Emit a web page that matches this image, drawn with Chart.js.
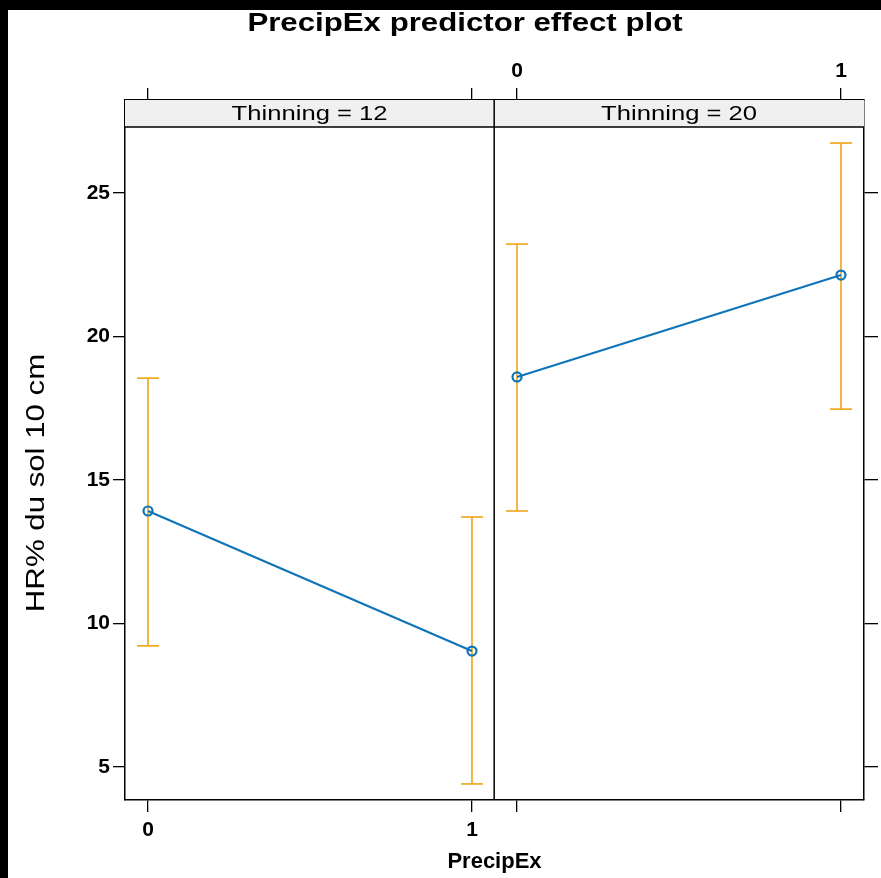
<!DOCTYPE html>
<html>
<head>
<meta charset="utf-8">
<script src="https://cdn.jsdelivr.net/npm/chart.js@4.4.1/dist/chart.umd.min.js"></script>
<style>
  html, body { margin: 0; padding: 0; background: #fff; }
  canvas { display: block; }
</style>
</head>
<body>
<canvas id="effectPlot" width="881" height="878"></canvas>
<script>
// data
const precipEx = [0, 1];
const xTickLabels = ['0', '1'];
const thinningLevels = ['Thinning = 12', 'Thinning = 20'];
const fit12 = [13.92, 9.04];
const lower12 = [9.22, 4.41];
const upper12 = [18.55, 13.71];
const fit20 = [18.59, 22.14];
const lower20 = [13.92, 17.47];
const upper20 = [23.22, 26.74];
const yTicks = [5, 10, 15, 20, 25];

// layout of the two panels on one shared x scale
const panelOffset = [0, 1.139];
const panelEdge = 1.0685;
const xMin = -0.071, xMax = 2.210;
const yMin = 3.85, yMax = 28.24;

const BLUE = '#0f74b8';
const ORANGE = '#eea515';
const FONT = '"Liberation Sans", Arial, sans-serif';

const pt = (panel, i, v) => ({ x: panelOffset[panel] + precipEx[i], y: v });

function fitSet(panel, fit) {
    return {
        data: precipEx.map((_, i) => pt(panel, i, fit[i])),
        borderColor: BLUE, borderWidth: 2.2,
        pointStyle: 'circle', pointRadius: 4.5, pointBorderWidth: 2.2,
        pointBorderColor: BLUE, pointBackgroundColor: 'rgba(0,0,0,0)',
        showLine: true, order: 0
    };
}

function barSet(panel, i, lo, hi) {
    return {
        data: [pt(panel, i, lo[i]), pt(panel, i, hi[i])],
        borderColor: ORANGE, borderWidth: 1.6,
        pointStyle: 'line', pointRadius: 11, pointBorderWidth: 1.6,
        pointBorderColor: ORANGE, showLine: true, order: 1
    };
}

const datasets = [fitSet(0, fit12), fitSet(1, fit20)];
precipEx.forEach((_, i) => {
    datasets.push(barSet(0, i, lower12, upper12));
    datasets.push(barSet(1, i, lower20, upper20));
});

const allXTicks = scale => {
    scale.ticks = [];
    panelOffset.forEach(off => precipEx.forEach(v => scale.ticks.push({ value: off + v })));
};

const grid = { display: true, drawOnChartArea: false, drawTicks: true, tickLength: 12, color: '#000', lineWidth: 1.3 };
const border = { display: true, color: '#000', width: 1.5 };

// text stretched along its own direction, like the original device
function wideText(ctx, text, x, y, font, stretch, angle) {
    ctx.save();
    ctx.font = font;
    ctx.translate(x, y);
    if (angle) ctx.rotate(angle);
    ctx.scale(stretch, 1);
    ctx.fillText(text, 0, 0);
    ctx.restore();
}

const framePlugin = {
    id: 'frame',
    beforeDraw(chart) {
        const ctx = chart.ctx;
        ctx.save();
        ctx.fillStyle = '#fff';
        ctx.fillRect(0, 0, chart.width, chart.height);
        ctx.fillStyle = '#000';
        ctx.fillRect(0, 0, chart.width, 10);
        ctx.fillRect(0, 0, 8, chart.height);
        ctx.restore();
    },
    afterDatasetsDraw(chart) {
        const ctx = chart.ctx;
        const { top, bottom, left, right } = chart.chartArea;
        const mid = chart.scales.x.getPixelForValue(panelEdge);
        const stripH = 27;
        ctx.save();
        ctx.fillStyle = '#f0f0f0';
        ctx.fillRect(left, top, right - left, stripH);
        ctx.strokeStyle = '#000';
        ctx.lineWidth = 1.5;
        ctx.beginPath();
        ctx.moveTo(left, top + stripH); ctx.lineTo(right, top + stripH);
        ctx.moveTo(mid, top); ctx.lineTo(mid, bottom);
        ctx.stroke();
        ctx.fillStyle = '#000';
        ctx.textAlign = 'center';
        ctx.textBaseline = 'middle';
        wideText(ctx, thinningLevels[0], (left + mid) / 2, top + stripH / 2 + 1, '21px ' + FONT, 1.22);
        wideText(ctx, thinningLevels[1], (mid + right) / 2, top + stripH / 2 + 1, '21px ' + FONT, 1.22);
        wideText(ctx, 'PrecipEx predictor effect plot', 465, 24, 'bold 26px ' + FONT, 1.2);
        wideText(ctx, 'HR% du sol 10 cm', 37, 483, '26px ' + FONT, 1.2, -Math.PI / 2);
        ctx.restore();
    }
};

new Chart(document.getElementById('effectPlot'), {
    type: 'scatter',
    data: { datasets },
    options: {
        responsive: false,
        animation: false,
        layout: { padding: { left: 8, top: 10, right: 0, bottom: 0 } },
        plugins: { legend: { display: false }, tooltip: { enabled: false } },
        scales: {
            x: {
                type: 'linear', position: 'bottom', min: xMin, max: xMax,
                afterBuildTicks: allXTicks,
                afterFit: s => { s.height = 78; },
                grid, border,
                ticks: {
                    color: '#000', padding: 6, maxRotation: 0, autoSkip: false,
                    font: { family: FONT, size: 21, weight: 'bold' },
                    callback: (v, i) => i < 2 ? xTickLabels[i] : ''
                },
                title: {
                    display: true, text: 'PrecipEx', color: '#000',
                    font: { family: FONT, size: 22, weight: 'bold' },
                    padding: { top: 0, bottom: 3 }
                }
            },
            x2: {
                type: 'linear', position: 'top', min: xMin, max: xMax,
                afterBuildTicks: allXTicks,
                afterFit: s => { s.height = 90; },
                grid, border,
                ticks: {
                    color: '#000', padding: 4, maxRotation: 0, autoSkip: false,
                    font: { family: FONT, size: 21, weight: 'bold' },
                    callback: (v, i) => i >= 2 ? xTickLabels[i - 2] : ''
                }
            },
            y: {
                type: 'linear', position: 'left', min: yMin, max: yMax,
                afterBuildTicks: s => { s.ticks = yTicks.map(v => ({ value: v })); },
                afterFit: s => { s.width = 117; },
                grid, border,
                ticks: {
                    color: '#000', padding: 3,
                    font: { family: FONT, size: 21, weight: 'bold' }
                }
            },
            y2: {
                type: 'linear', position: 'right', min: yMin, max: yMax,
                afterBuildTicks: s => { s.ticks = yTicks.map(v => ({ value: v })); },
                afterFit: s => { s.width = 17; },
                grid: { ...grid, tickLength: 14 }, border,
                ticks: { display: true, callback: () => '' }
            }
        }
    },
    plugins: [framePlugin]
});
</script>
</body>
</html>
